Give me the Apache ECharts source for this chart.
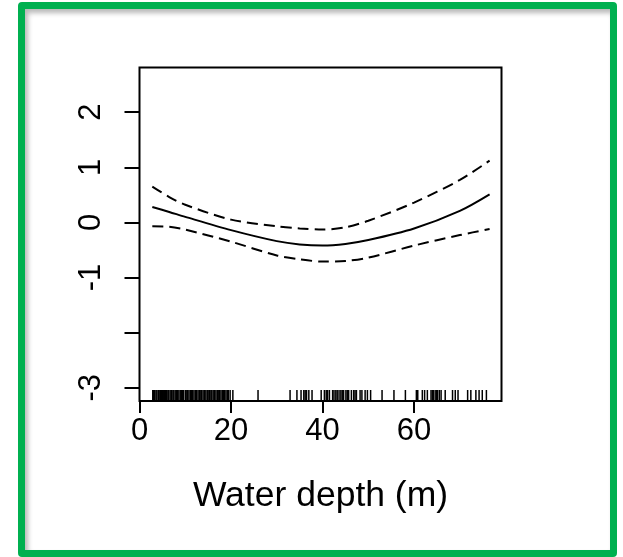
<!DOCTYPE html>
<html>
<head>
<meta charset="utf-8">
<script src="https://cdn.jsdelivr.net/npm/echarts@6/dist/echarts.min.js"></script>
<style>
  html, body { margin: 0; padding: 0; background: #fff; }
  #frame {
    position: absolute; left: 18px; top: 2px; width: 585px; height: 541px;
    border: 7px solid #00B050; border-radius: 4px;
    box-shadow: inset 3px 4px 5px rgba(0,0,0,0.28);
  }
  #chart { position: absolute; left: 0; top: 0; width: 623px; height: 557px; }
</style>
</head>
<body>
<div id="frame"></div>
<div id="chart"></div>
<script>
// Smooth term for water depth, with its confidence band
const depth    = [2.8, 6.5, 10, 20, 30, 35, 40, 45, 50, 60, 70, 76.5];
const fit      = [0.28, 0.19, 0.10, -0.14, -0.34, -0.40, -0.42, -0.39, -0.32, -0.11, 0.21, 0.51];
const upperCI  = [0.65, 0.46, 0.32, 0.05, -0.07, -0.11, -0.13, -0.09, 0.03, 0.36, 0.77, 1.12];
const lowerCI  = [-0.07, -0.08, -0.13, -0.35, -0.60, -0.67, -0.71, -0.70, -0.64, -0.42, -0.23, -0.12];

// Observed depths (rug)
const rugDepths = [2.9, 3.1, 3.3, 3.6, 3.8, 4.1, 4.3, 4.6, 4.8, 5.0, 5.3, 5.5, 5.7, 5.9, 6.2, 6.4,
  6.7, 7.0, 7.3, 7.5, 7.8, 8.1, 8.3, 8.6, 8.9, 9.2, 9.4, 9.6, 10.0, 10.2, 10.5, 10.8, 11.1, 11.4,
  11.6, 11.9, 12.2, 12.5, 12.8, 13.1, 13.4, 13.6, 13.9, 14.2, 14.5, 14.8, 15.0, 15.3, 15.6, 15.8,
  16.1, 16.4, 16.7, 17.0, 17.2, 17.5, 17.8, 18.1, 18.4, 18.6, 18.9, 19.2, 19.4, 19.8, 20.4,
  25.9, 32.9, 34.4, 35.3, 35.9, 36.2, 36.5, 37.0, 37.7, 39.7, 40.4, 40.8, 41.1, 41.5, 42.2, 42.5,
  42.9, 43.2, 43.6, 44.0, 44.3, 44.6, 45.1, 45.4, 45.7, 46.3, 46.8, 47.1, 47.4, 48.2, 48.6, 49.3,
  49.8, 50.5, 53.0, 55.6, 58.1, 60.5, 60.8, 61.8, 62.3, 62.9, 63.7, 64.0, 64.2, 64.6, 64.9, 65.1,
  65.5, 65.9, 66.8, 68.4, 69.0, 69.6, 71.7, 72.4, 73.5, 74.2, 74.9, 75.8];

const xTicks = [0, 20, 40, 60];
const yTicks = [-3, -2, -1, 0, 1, 2];
const yLabels = [-3, -1, 0, 1, 2];
const xTitle = 'Water depth (m)';

const X_MIN = 0, X_MAX = 79.1, Y_MIN = -3.24, Y_MAX = 2.81;
const FONT = '"Liberation Sans", Arial, sans-serif';

const pairs = (xs, ys) => xs.map((x, i) => [x, ys[i]]);

const chart = echarts.init(document.getElementById('chart'), null, { renderer: 'canvas' });
chart.setOption({
  animation: false,
  backgroundColor: 'transparent',
  grid: {
    left: 139.5, right: 121.5, top: 67.5, bottom: 156,
    show: true, borderColor: '#000', borderWidth: 2, backgroundColor: 'transparent'
  },
  xAxis: {
    type: 'value', min: X_MIN, max: X_MAX, interval: 20,
    splitLine: { show: false },
    axisLine: { show: false, onZero: false },
    axisTick: { show: true, length: 12, inside: false, customValues: xTicks,
      lineStyle: { color: '#000', width: 2 } },
    axisLabel: { customValues: xTicks, margin: 15, color: '#000', fontSize: 31, fontFamily: FONT },
    name: xTitle, nameLocation: 'middle', nameGap: 77,
    nameTextStyle: { color: '#000', fontSize: 35.5, fontFamily: FONT }
  },
  yAxis: {
    type: 'value', min: Y_MIN, max: Y_MAX,
    splitLine: { show: false },
    axisLine: { show: false, onZero: false },
    axisTick: { show: true, length: 15, customValues: yTicks,
      lineStyle: { color: '#000', width: 2 } },
    axisLabel: { customValues: yLabels, rotate: 90, margin: 33, color: '#000',
      fontSize: 31, fontFamily: FONT }
  },
  series: [
    {
      type: 'line', data: pairs(depth, fit), smooth: 0.3, symbol: 'none',
      lineStyle: { color: '#000', width: 2 }
    },
    {
      type: 'line', data: pairs(depth, upperCI), smooth: 0.3, symbol: 'none',
      lineStyle: { color: '#000', width: 2, type: [11, 6] }
    },
    {
      type: 'line', data: pairs(depth, lowerCI), smooth: 0.3, symbol: 'none',
      lineStyle: { color: '#000', width: 2, type: [11, 6] }
    },
    {
      type: 'custom',
      data: rugDepths.map(d => [d]),
      renderItem: function (params, api) {
        const p = api.coord([api.value(0), Y_MIN]);
        return {
          type: 'line',
          shape: { x1: p[0], y1: p[1] - 1, x2: p[0], y2: p[1] - 11 },
          style: { stroke: '#000', lineWidth: 1.5 }
        };
      }
    }
  ]
});
</script>
</body>
</html>
